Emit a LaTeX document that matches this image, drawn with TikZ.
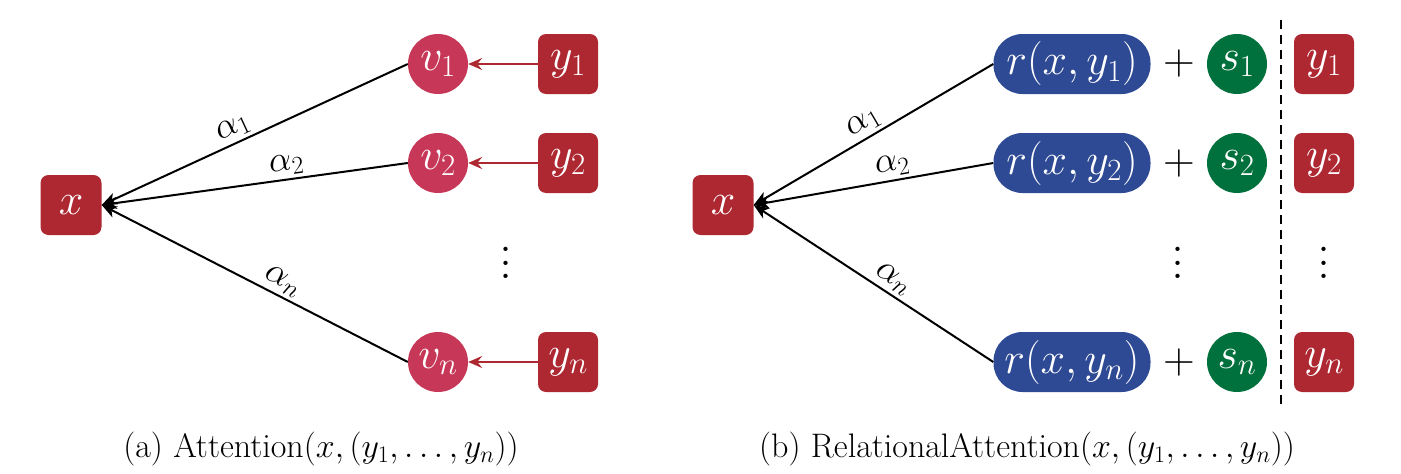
\RequirePackage{fix-cm}
\documentclass[tikz,border=0pt]{standalone}
\usetikzlibrary{arrows.meta}
\definecolor{boxred}{RGB}{174,40,50}
\definecolor{circred}{RGB}{199,56,88}
\definecolor{rblue}{RGB}{46,74,148}
\definecolor{sgreen}{RGB}{0,112,60}
\newcommand{\myvdots}{\vbox{\baselineskip=13.5pt\lineskiplimit=-20pt\hbox{.}\hbox{.}\hbox{.}}}
\tikzset{
  big/.style={font=\fontsize{44}{52}\selectfont, text=white, inner sep=0pt},
  redbox/.style={big, fill=boxred, rounded corners=8pt, minimum width=60pt, minimum height=60pt},
  vcirc/.style={big, circle, fill=circred, minimum size=60pt},
  scirc/.style={big, circle, fill=sgreen, minimum size=60pt},
  rpill/.style={big, fill=rblue, rounded corners=29pt, minimum width=157pt, minimum height=60pt},
  att/.style={draw=black, line width=2pt, -{Stealth[length=15pt,width=12pt,inset=4pt]}},
  redarr/.style={draw=boxred, line width=2pt, -{Stealth[length=14pt,width=12pt,inset=5pt]}},
  alab/.style={font=\fontsize{36}{42}\selectfont, sloped, above, inner sep=3pt},
  plain/.style={font=\fontsize{44}{52}\selectfont, inner sep=0pt},
  dotsty/.style={font=\fontsize{52}{58}\selectfont, inner sep=0pt},
  capt/.style={font=\fontsize{34}{40}\selectfont, anchor=base, inner sep=0pt}
}
\begin{document}
\begin{tikzpicture}[x=1pt,y=-1pt]
\useasboundingbox (0,0) rectangle (1401,474);
% ---------- (a) ----------
\node[redbox, minimum width=61pt] (xa) at (71,205) {$x$};
\node[vcirc] (v1) at (438,64) {$v_1$};
\node[vcirc] (v2) at (438,163) {$v_2$};
\node[vcirc] (vn) at (438,362) {$v_n$};
\node[redbox] (ya1) at (568,64) {$y_1$};
\node[redbox] (ya2) at (568,163) {$y_2$};
\node[redbox] (yan) at (568,362) {$y_n$};
\node[dotsty] (dotsa) at (506,263) {\myvdots};
\draw[redarr] (ya1) -- (v1);
\draw[redarr] (ya2) -- (v2);
\draw[redarr] (yan) -- (vn);
\draw[att] (v1.west) -- node[alab, pos=0.55] {$\alpha_1$} (xa.east);
\draw[att] (v2.west) -- node[alab, pos=0.39] {$\alpha_2$} (xa.east);
\draw[att] (vn.west) -- node[alab, pos=0.43] {$\alpha_n$} (xa.east);
\node[capt] (capa) at (321,457) {(a) Attention$(x,(y_1,\ldots,y_n))$};
% ---------- (b) ----------
\node[redbox, minimum width=61pt] (xb) at (723,205) {$x$};
\node[rpill] (r1) at (1072,64) {$r(x,y_1)$};
\node[rpill] (r2) at (1072,163) {$r(x,y_2)$};
\node[rpill] (rn) at (1072,362) {$r(x,y_n)$};
\node[plain] (p1) at (1179,64) {$+$};
\node[plain] (p2) at (1179,163) {$+$};
\node[plain] (pn) at (1179,362) {$+$};
\node[scirc] (s1) at (1237,64) {$s_1$};
\node[scirc] (s2) at (1237,163) {$s_2$};
\node[scirc] (sn) at (1237,362) {$s_n$};
\node[redbox] (yb1) at (1324,64) {$y_1$};
\node[redbox] (yb2) at (1324,163) {$y_2$};
\node[redbox] (ybn) at (1324,362) {$y_n$};
\node[dotsty] (dotsb1) at (1178,263) {\myvdots};
\node[dotsty] (dotsb2) at (1324,263) {\myvdots};
\coordinate (dtop) at (1281,20);
\coordinate (dbot) at (1281,406);
\draw[line width=2pt, dash pattern=on 9pt off 6pt] (dtop) -- (dbot);
\draw[att] (r1.west) -- node[alab, pos=0.51] {$\alpha_1$} (xb.east);
\draw[att] (r2.west) -- node[alab, pos=0.41] {$\alpha_2$} (xb.east);
\draw[att] (rn.west) -- node[alab, pos=0.45] {$\alpha_n$} (xb.east);
\node[capt] (capb) at (1027,457) {(b) RelationalAttention$(x,(y_1,\ldots,y_n))$};
\end{tikzpicture}
\end{document}
